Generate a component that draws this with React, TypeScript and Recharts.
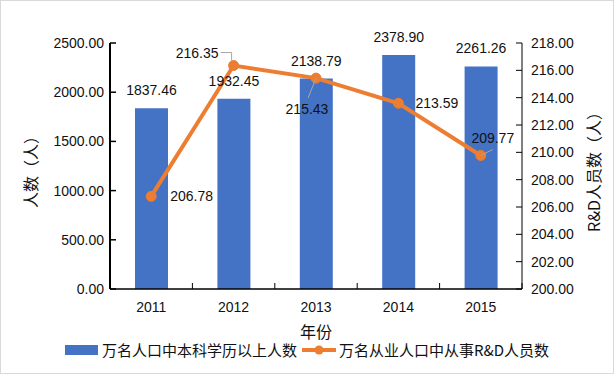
import React from "react";
import {
  ComposedChart,
  Bar,
  Line,
  XAxis,
  YAxis,
  LabelList,
} from "recharts";

const years = ["2011", "2012", "2013", "2014", "2015"];
const bachelorPer10k = [1837.46, 1932.45, 2138.79, 2378.9, 2261.26];
const rdPer10k = [206.78, 216.35, 215.43, 213.59, 209.77];
const leftTicks = [0, 500, 1000, 1500, 2000, 2500];
const rightTicks = [200, 202, 204, 206, 208, 210, 212, 214, 216, 218];

const BAR_NAME = "万名人口中本科学历以上人数";
const LINE_NAME = "万名从业人口中从事R&D人员数";

const data = years.map((year, i) => ({
  year,
  bachelor: bachelorPer10k[i],
  rd: rdPer10k[i],
}));

const W = 614;
const H = 374;
const MARGIN = { top: 43, right: 20, bottom: 55, left: 20 };
const LEFT_W = 90;
const RIGHT_W = 72;
const PLOT_W = W - MARGIN.left - MARGIN.right - LEFT_W - RIGHT_W;
const BAND = PLOT_W / years.length;

const BLUE = "#4472C4";
const ORANGE = "#ED7D31";
const TEXT = "#111";
const NUM_FONT = '"Liberation Sans", Arial, "Noto Sans CJK SC", sans-serif';
const CJK_FONT = '"Noto Sans CJK SC", "Noto Sans", sans-serif';

// where each line value label sits relative to its point
const lineLabelPlacement = [
  { dx: 19, dy: 0, anchor: "start", leader: null },
  { dx: -15, dy: -13, anchor: "end", leader: "M-13,-13 H-2 V-5" },
  { dx: -9, dy: 31, anchor: "middle", leader: "M0,0 L-8,20" },
  { dx: 17, dy: 0, anchor: "start", leader: null },
  { dx: 12, dy: -17, anchor: "middle", leader: "M0,0 L12,-6" },
];

const LeftTick = (props: any) => {
  const { x, y, payload } = props;
  const axisX = x + 6;
  return (
    <g>
      <line x1={axisX} x2={axisX + 6} y1={y} y2={y} stroke="#000" strokeWidth={1.5} />
      <text x={x} y={y} textAnchor="end" dominantBaseline="central" fontSize={14} fill={TEXT} fontFamily={NUM_FONT}>
        {Number(payload.value).toFixed(2)}
      </text>
    </g>
  );
};

const RightTick = (props: any) => {
  const { x, y, payload } = props;
  const axisX = x - 9;
  return (
    <g>
      <line x1={axisX - 6} x2={axisX} y1={y} y2={y} stroke="#000" strokeWidth={1} />
      <text x={x} y={y} textAnchor="start" dominantBaseline="central" fontSize={14} fill={TEXT} fontFamily={NUM_FONT}>
        {Number(payload.value).toFixed(2)}
      </text>
    </g>
  );
};

const YearTick = (props: any) => {
  const { x, y, payload, index } = props;
  const left = x - BAND / 2;
  return (
    <g>
      <line x1={left} x2={left} y1={y} y2={y - 6} stroke="#000" strokeWidth={1} />
      {index === years.length - 1 && (
        <line x1={x + BAND / 2} x2={x + BAND / 2} y1={y} y2={y - 6} stroke="#000" strokeWidth={1} />
      )}
      <text x={x} y={y + 18} textAnchor="middle" dominantBaseline="central" fontSize={14} fill={TEXT} fontFamily={NUM_FONT}>
        {payload.value}
      </text>
    </g>
  );
};

const LineValueLabel = (props: any) => {
  const { x, y, value, index } = props;
  const p = lineLabelPlacement[index];
  return (
    <g>
      {p.leader && (
        <path d={p.leader} transform={`translate(${x},${y})`} fill="none" stroke="#a6a6a6" strokeWidth={1} />
      )}
      <text
        x={x + p.dx}
        y={y + p.dy}
        textAnchor={p.anchor}
        dominantBaseline="central"
        fontSize={14}
        fill={TEXT}
        fontFamily={NUM_FONT}
      >
        {Number(value).toFixed(2)}
      </text>
    </g>
  );
};

const AxisTitle = (props: any) => {
  const { viewBox, text, side } = props;
  const cx = side === "left" ? viewBox.x + 10 : viewBox.x + viewBox.width - 1;
  const cy = viewBox.y + viewBox.height / 2 + 2;
  return (
    <text
      x={cx}
      y={cy}
      transform={`rotate(-90, ${cx}, ${cy})`}
      textAnchor="middle"
      dominantBaseline="central"
      fontSize={16}
      fill={TEXT}
      fontFamily={CJK_FONT}
    >
      {text}
    </text>
  );
};

const XTitle = (props: any) => {
  const { viewBox } = props;
  return (
    <text
      x={viewBox.x + viewBox.width / 2}
      y={viewBox.y + 42}
      textAnchor="middle"
      dominantBaseline="central"
      fontSize={16}
      fill={TEXT}
      fontFamily={CJK_FONT}
    >
      年份
    </text>
  );
};

const ChartLegend = () => (
  <div
    style={{
      position: "absolute",
      top: 338,
      left: 64,
      display: "flex",
      alignItems: "center",
      fontFamily: CJK_FONT,
      fontSize: 15,
      color: TEXT,
      whiteSpace: "nowrap",
    }}
  >
    <span style={{ width: 33, height: 10, background: BLUE, display: "inline-block", marginRight: 4 }} />
    <span>{BAR_NAME}</span>
    <svg width={36} height={12} style={{ marginLeft: 4, marginRight: 2 }}>
      <line x1={1} x2={35} y1={6} y2={6} stroke={ORANGE} strokeWidth={4} />
      <circle cx={18} cy={6} r={4.5} fill={ORANGE} />
    </svg>
    <span>{LINE_NAME}</span>
  </div>
);

export default function App() {
  return (
    <div
      style={{
        position: "absolute",
        top: 0,
        left: 0,
        width: W,
        height: H,
        boxSizing: "border-box",
        border: "1px solid #d9d9d9",
        background: "#fff",
      }}
    >
      <div style={{ position: "absolute", top: -1, left: -1 }}>
        <ComposedChart width={W} height={H} data={data} margin={MARGIN}>
          <XAxis
            dataKey="year"
            xAxisId="x"
            height={30}
            tickLine={false}
            tickSize={0}
            tickMargin={0}
            axisLine={{ stroke: "#000", strokeWidth: 1.5 }}
            tick={<YearTick />}
            label={<XTitle />}
          />
          <YAxis
            yAxisId="left"
            orientation="left"
            width={LEFT_W}
            domain={[0, 2500]}
            ticks={leftTicks}
            interval={0}
            tickLine={false}
            tickSize={0}
            tickMargin={6}
            axisLine={{ stroke: "#000", strokeWidth: 2 }}
            tick={<LeftTick />}
            label={<AxisTitle text="人数（人）" side="left" />}
          />
          <YAxis
            yAxisId="right"
            orientation="right"
            width={RIGHT_W}
            domain={[200, 218]}
            ticks={rightTicks}
            interval={0}
            tickLine={false}
            tickSize={0}
            tickMargin={9}
            axisLine={{ stroke: "#000", strokeWidth: 1 }}
            tick={<RightTick />}
            label={<AxisTitle text="R&D人员数（人）" side="right" />}
          />
          <Bar
            dataKey="bachelor"
            name={BAR_NAME}
            xAxisId="x"
            yAxisId="left"
            fill={BLUE}
            barSize={33}
            isAnimationActive={false}
          >
            <LabelList
              dataKey="bachelor"
              position="top"
              offset={13}
              formatter={(v: any) => Number(v).toFixed(2)}
              style={{ fontSize: 14, fill: TEXT, fontFamily: NUM_FONT }}
            />
          </Bar>
          <Line
            dataKey="rd"
            name={LINE_NAME}
            xAxisId="x"
            yAxisId="right"
            stroke={ORANGE}
            strokeWidth={4}
            dot={{ r: 5, fill: ORANGE, stroke: ORANGE, strokeWidth: 1 }}
            activeDot={false}
            isAnimationActive={false}
          >
            <LabelList dataKey="rd" content={<LineValueLabel />} />
          </Line>
        </ComposedChart>
      </div>
      <ChartLegend />
    </div>
  );
}
